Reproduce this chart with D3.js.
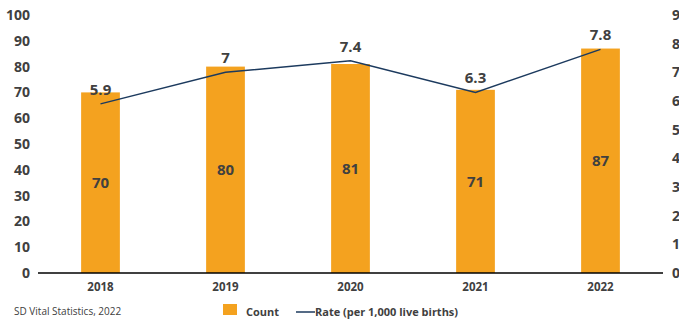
<!DOCTYPE html>
<html>
<head>
<meta charset="utf-8">
<script src="https://cdn.jsdelivr.net/npm/d3@7/dist/d3.min.js"></script>
<style>
  html, body { margin: 0; padding: 0; background: #fff; overflow: hidden; }
  svg { display: block; }
  text { font-family: "Open Sans", Lato, "Liberation Sans", sans-serif; }
</style>
</head>
<body>
<svg id="chart" width="679" height="322"></svg>
<script>
const years = ["2018", "2019", "2020", "2021", "2022"];
const counts = [70, 80, 81, 71, 87];
const rates = [5.9, 7, 7.4, 6.3, 7.8];
const leftTicks = [0, 10, 20, 30, 40, 50, 60, 70, 80, 90, 100];
const rightTicks = [0, 1, 2, 3, 4, 5, 6, 7, 8, 9];
const sourceText = "SD Vital Statistics, 2022";
const legendLabels = ["Count", "Rate (per 1,000 live births)"];

const W = 679, H = 322;
const plot = { left: 38, right: 663, top: 15, bottom: 273 };
const barColor = "#F4A21F";
const lineColor = "#1C3A5E";
const textColor = "#404040";

const svg = d3.select("#chart");

const x = d3.scaleBand().domain(years).range([plot.left, plot.right]).paddingInner(0.69).paddingOuter(0.345);
const yL = d3.scaleLinear().domain([0, 100]).range([plot.bottom, plot.top]);
const yR = d3.scaleLinear().domain([0, 9]).range([plot.bottom, plot.top]);

// left axis
const axL = svg.append("g").attr("transform", `translate(${plot.left},0)`)
  .call(d3.axisLeft(yL).tickValues(leftTicks).tickSize(0).tickPadding(8));
axL.select(".domain").remove();
axL.selectAll("text").attr("font-size", 14).attr("font-weight", 700).attr("fill", textColor)
  .attr("font-family", '"Open Sans", sans-serif');

// right axis
const axR = svg.append("g").attr("transform", `translate(${plot.right},0)`)
  .call(d3.axisRight(yR).tickValues(rightTicks).tickSize(0).tickPadding(9));
axR.select(".domain").remove();
axR.selectAll("text").attr("font-size", 14).attr("font-weight", 700).attr("fill", textColor)
  .attr("font-family", '"Open Sans", sans-serif');

// bars
svg.append("g").selectAll("rect").data(years).join("rect")
  .attr("x", d => x(d))
  .attr("width", x.bandwidth())
  .attr("y", (d, i) => yL(counts[i]))
  .attr("height", (d, i) => plot.bottom - yL(counts[i]))
  .attr("fill", barColor);

// x axis
const axX = svg.append("g").attr("transform", `translate(0,${plot.bottom})`)
  .call(d3.axisBottom(x).tickSize(0).tickPadding(10));
axX.select(".domain").attr("stroke", "#000").attr("stroke-width", 1.5)
  .attr("d", `M${plot.left},0H${plot.right}`);
axX.selectAll("text").attr("font-size", 11.5).attr("font-weight", 700).attr("fill", textColor);

// count labels
svg.append("g").selectAll("text").data(years).join("text")
  .attr("x", d => x(d) + x.bandwidth() / 2)
  .attr("y", (d, i) => (yL(counts[i]) + plot.bottom) / 2)
  .attr("dy", "0.35em")
  .attr("text-anchor", "middle")
  .attr("font-size", 15).attr("font-weight", 700).attr("fill", textColor)
  .text((d, i) => counts[i]);

// rate line
const line = d3.line()
  .x((d, i) => x(years[i]) + x.bandwidth() / 2)
  .y(d => yR(d));
svg.append("path").datum(rates)
  .attr("d", line)
  .attr("fill", "none")
  .attr("stroke", lineColor)
  .attr("stroke-width", 1.5);

// rate labels
svg.append("g").selectAll("text").data(rates).join("text")
  .attr("x", (d, i) => x(years[i]) + x.bandwidth() / 2)
  .attr("y", d => yR(d) - 9)
  .attr("text-anchor", "middle")
  .attr("font-size", 15).attr("font-weight", 700).attr("fill", textColor)
  .text(d => d);

// source
svg.append("text").attr("x", 14).attr("y", 315)
  .attr("font-size", 10).attr("fill", textColor)
  .text(sourceText);

// legend
const lg = svg.append("g");
lg.append("rect").attr("x", 223).attr("y", 304).attr("width", 14).attr("height", 11).attr("fill", barColor);
lg.append("text").attr("x", 246).attr("y", 316).attr("font-size", 11).attr("font-weight", 700).attr("fill", textColor).text(legendLabels[0]);
lg.append("line").attr("x1", 296).attr("x2", 315).attr("y1", 312).attr("y2", 312).attr("stroke", lineColor).attr("stroke-width", 1.5);
lg.append("text").attr("x", 315).attr("y", 316).attr("font-size", 11).attr("font-weight", 700).attr("fill", textColor).text(legendLabels[1]);
</script>
</body>
</html>
